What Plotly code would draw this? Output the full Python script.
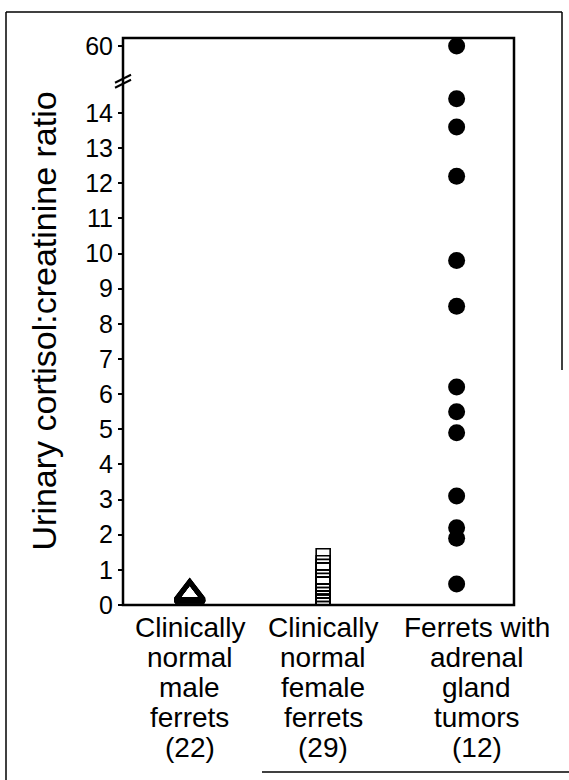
import plotly.graph_objects as go

# ---- data ----
categories = ["Clinically normal male ferrets (22)",
              "Clinically normal female ferrets (29)",
              "Ferrets with adrenal gland tumors (12)"]
category_lines = [["Clinically", "normal", "male", "ferrets", "(22)"],
                  ["Clinically", "normal", "female", "ferrets", "(29)"],
                  ["Ferrets with", "adrenal", "gland", "tumors", "(12)"]]
male_values = [0.36, 0.35, 0.34, 0.33, 0.32, 0.32, 0.31, 0.31, 0.30, 0.30, 0.29,
               0.29, 0.28, 0.28, 0.28, 0.27, 0.27, 0.27, 0.26, 0.26, 0.26, 0.26]
female_values = [1.4, 1.2, 1.1, 1.0, 1.0, 0.8, 0.8, 0.6, 0.6, 0.6, 0.4, 0.4,
                 0.4, 0.3, 0.3, 0.2, 0.2, 0.2, 0.2, 0.2, 0.1, 0.1, 0.1, 0.1,
                 0.1, 0.1, 0.1, 0.1, 0.1]
tumor_values = [60, 14.4, 13.6, 12.2, 9.8, 8.5, 6.2, 5.5, 4.9, 3.1, 2.2, 1.9, 0.6]
lower_ticks = list(range(0, 15))
upper_ticks = [60]
y_title = "Urinary cortisol:creatinine ratio"
break_low = 15.0   # top of lower axis segment

FONT = "Liberation Sans, Arial, Helvetica, sans-serif"

W, H = 569, 780
ML, MR, MT, MB = 123, 55, 38, 175
plot_h = H - MT - MB
plot_w = W - ML - MR
px_per_unit = 35.15
lower_px = break_low * px_per_unit
d = lower_px / plot_h              # split between lower and upper domains
upper_px = plot_h - lower_px
upper_top = 60 + 8 / px_per_unit
upper_range = [upper_top - upper_px / px_per_unit, upper_top]

xpos = [0, 1, 2]

def px2paper(xp, yp):
    return (xp - ML) / plot_w, (H - MB - yp) / plot_h

fig = go.Figure()
fig.add_trace(go.Scatter(
    x=[xpos[0]] * len(male_values), y=male_values, mode="markers",
    marker=dict(symbol="triangle-up-open", size=25, color="black",
                line=dict(color="black", width=3)),
    cliponaxis=True, xaxis="x", yaxis="y", showlegend=False, hoverinfo="skip"))
fig.add_trace(go.Scatter(
    x=[xpos[1]] * len(female_values), y=female_values, mode="markers",
    marker=dict(symbol="square-open", size=14, color="black",
                line=dict(color="black", width=1.6)),
    cliponaxis=True, xaxis="x", yaxis="y", showlegend=False, hoverinfo="skip"))
low_t = [v for v in tumor_values if v <= break_low]
up_t = [v for v in tumor_values if v > break_low]
fig.add_trace(go.Scatter(
    x=[xpos[2]] * len(low_t), y=low_t, mode="markers",
    marker=dict(symbol="circle", size=17, color="black"),
    cliponaxis=False, xaxis="x", yaxis="y", showlegend=False, hoverinfo="skip"))
fig.add_trace(go.Scatter(
    x=[xpos[2]] * len(up_t), y=up_t, mode="markers",
    marker=dict(symbol="circle", size=17, color="black"),
    cliponaxis=False, xaxis="x", yaxis="y2", showlegend=False, hoverinfo="skip"))

tickfont = dict(family=FONT, size=25, color="black")
fig.update_layout(
    width=W, height=H, margin=dict(l=ML, r=MR, t=MT, b=MB),
    paper_bgcolor="white", plot_bgcolor="white",
    font=dict(family=FONT, color="black"),
    xaxis=dict(range=[-0.5, 2.43], showticklabels=False, ticks="",
               showgrid=False, zeroline=False, showline=False, anchor="y"),
    yaxis=dict(domain=[0, d], range=[0, break_low], tickvals=lower_ticks,
               ticks="outside", ticklen=4, tickwidth=1.5, tickcolor="black",
               tickfont=tickfont, showgrid=False, zeroline=False,
               showline=False, anchor="x"),
    yaxis2=dict(domain=[d, 1], range=upper_range, tickvals=upper_ticks,
                ticks="outside", ticklen=4, tickwidth=1.5, tickcolor="black",
                tickfont=tickfont, showgrid=False, zeroline=False,
                showline=False, anchor="x"),
)

shapes = []
# plot frame
shapes.append(dict(type="rect", xref="paper", yref="paper", x0=0, y0=0, x1=1, y1=1,
                   line=dict(color="black", width=2.5)))
# axis break marks
for off in (0, 5):
    x0, y0 = px2paper(ML - 8, MT + upper_px + 5 + off)
    x1, y1 = px2paper(ML + 8, MT + upper_px - 3 + off)
    shapes.append(dict(type="line", xref="paper", yref="paper",
                       x0=x0, y0=y0, x1=x1, y1=y1, line=dict(color="black", width=2)))
# outer border (partially visible in the scan)
lx, ty = px2paper(6, 12)
_, by = px2paper(6, 780)
rx, ry = px2paper(562, 370)
bx0, bby = px2paper(262, 772)
bx1, _ = px2paper(569, 772)
shapes += [
    dict(type="line", xref="paper", yref="paper", x0=lx, y0=ty, x1=lx, y1=by,
         line=dict(color="black", width=1.5)),
    dict(type="line", xref="paper", yref="paper", x0=lx, y0=ty, x1=rx, y1=ty,
         line=dict(color="black", width=1.5)),
    dict(type="line", xref="paper", yref="paper", x0=rx, y0=ty, x1=rx, y1=ry,
         line=dict(color="black", width=1.5)),
    dict(type="line", xref="paper", yref="paper", x0=bx0, y0=bby, x1=bx1, y1=bby,
         line=dict(color="black", width=1.5)),
]
fig.update_layout(shapes=shapes)

annotations = []
label_shift = [0, 0, 20]
for i, lines in enumerate(category_lines):
    for j, line in enumerate(lines):
        annotations.append(dict(
            x=xpos[i], y=0, xref="x", yref="y", text=line, showarrow=False,
            xanchor="center", yanchor="middle", xshift=label_shift[i],
            yshift=-(22 + 30 * j),
            font=dict(family=FONT, size=28, color="black")))
tx, _ = px2paper(43, 0)
annotations.append(dict(
    x=tx, y=0.5, xref="paper", yref="paper", text=y_title, showarrow=False,
    textangle=-90, xanchor="center", yanchor="middle",
    font=dict(family=FONT, size=34, color="black")))
fig.update_layout(annotations=annotations)

fig.write_html("out.html", config={"displayModeBar": False},
               post_script="document.body.style.margin='0';document.body.style.overflow='hidden';")
